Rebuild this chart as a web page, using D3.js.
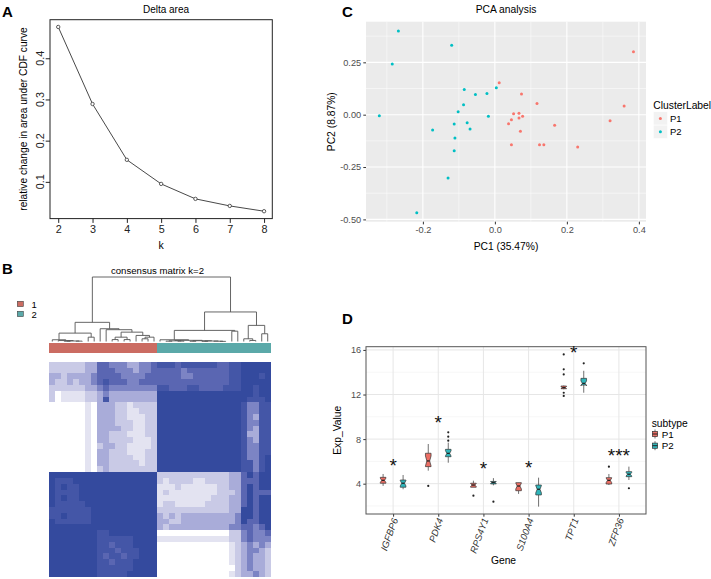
<!DOCTYPE html>
<html><head><meta charset="utf-8">
<script src="https://cdn.jsdelivr.net/npm/d3@7"></script>
<style>body{margin:0;background:#fff}svg{display:block}text{font-family:"Liberation Sans",Arial,Helvetica,sans-serif}</style>
</head><body><svg id="c" width="711" height="579"></svg>
<script>
// ---------------- DATA ----------------
// Panel A: delta area
const kValues = [2,3,4,5,6,7,8];
const deltaArea = [0.476,0.289,0.1535,0.095,0.0587,0.0416,0.0287];
const deltaYTicks = [0.1,0.2,0.3,0.4];

// Panel C: PCA
const pcaP1x = [0.012,0.074,0.117,0.052,0.067,0.046,0.067,0.077,0.038,0.071,0.046,0.124,0.136,0.166,0.230,0.320,0.359,0.385];
const pcaP1y = [0.153,0.099,0.053,0.005,0.007,-0.024,-0.016,-0.008,-0.043,-0.079,-0.143,-0.143,-0.143,-0.051,-0.154,-0.029,0.042,0.301];
const pcaP2x = [-0.268,-0.120,-0.285,-0.085,-0.054,-0.022,0.004,-0.087,-0.102,-0.321,-0.018,-0.113,-0.077,-0.069,-0.173,-0.111,-0.113,-0.130,-0.217];
const pcaP2y = [0.400,0.331,0.242,0.120,0.096,0.101,0.129,0.048,0.014,-0.005,-0.008,-0.044,-0.038,-0.068,-0.073,-0.111,-0.172,-0.302,-0.468];
const pcaXTicks = [-0.2,0,0.2,0.4];
const pcaXLabels = ["-0.2","0.0","0.2","0.4"];
const pcaYTicks = [0.25,0,-0.25,-0.5];
const pcaYLabels = ["0.25","0.00","-0.25","-0.50"];
const pcaXMinor = [-0.3,-0.1,0.1,0.3];
const pcaYMinor = [0.375,0.125,-0.125,-0.375];
const clusterNames = ["P1","P2"];

// Panel B: consensus matrix (levels 0..7), columns = samples, rows top->bottom
const clusterLabels = ["1","2"];
const sampleGroup = [1,1,1,1,1,1,1,1,1,1,1,1,1,1,1,1,1,1, 2,2,2,2,2,2,2,2,2,2,2,2,2,2,2,2,2,2,2];
const consensusRows = [
"222222335544433445"+"66656666665566"+"77777",
"222222335554443445"+"55554555555566"+"77777",
"332333345555444455"+"55554455555566"+"77767",
"322323345655544555"+"55555555555566"+"77777",
"222222334544444444"+"66555665555666"+"77677",
"201111223433333333"+"77777777777777"+"77677",
"201111223633333333"+"77777777777777"+"76667",
"000000103332212222"+"77777777777777"+"64466",
"000000103332211222"+"77777777777777"+"64466",
"000000103332211122"+"77777777777777"+"64366",
"000000103332221122"+"77777777777777"+"64466",
"000000103333221122"+"77777777777777"+"64366",
"000000103322211122"+"77777777777777"+"63366",
"000000103322221112"+"77777777777777"+"64366",
"000000102332211112"+"77777777777777"+"64466",
"000000103322211122"+"77777777777777"+"64466",
"000000103322221122"+"77777777777777"+"64467",
"000000103322222122"+"77777777777777"+"66467",
"000000102322222222"+"77777777777777"+"66467",
"777777777777777777"+"222222222222"+"33"+"57577",
"766677777777777777"+"212222112222"+"33"+"55577",
"767667777777777777"+"111211111122"+"33"+"57577",
"766667777777777777"+"121111111122"+"23"+"57555",
"767667777777777777"+"111111111222"+"33"+"57577",
"766666777777777777"+"122111112222"+"33"+"57577",
"666666677777777777"+"222222222222"+"33"+"77577",
"667666677777777777"+"323233333333"+"34"+"77577",
"766666677777777777"+"332233333333"+"34"+"75577",
"777777777777777777"+"323333333333"+"44"+"55457",
"777777776677777777"+"000000000000"+"22"+"45445",
"777777776666667777"+"111111111111"+"22"+"45444",
"777777776656667777"+"000000000000"+"12"+"34343",
"777777776665666777"+"000000000000"+"12"+"34432",
"777777776566566777"+"000000000000"+"12"+"34332",
"777777776656667777"+"000000000000"+"12"+"34332",
"777777776666667777"+"000000000000"+"02"+"34332",
"777777776666677777"+"000000000000"+"12"+"33432"
];
// dendrogram: [height, left, right]; numbers are sample (column) indices
const dendroLeft = [0.297,
  [0.13, [0.027, 0, [0.015, 1, [0.008, [0.004,2,3], [0.006,4,5]]]], [0.067,6,7]],
  [0.198, 8, [0.183, 9, [0.145, [0.067,[0.03,10,11],[0.03,12,13]], [0.094, 14, [0.067,[0.042,15,16],17]]]]]];
const dendroRight = [0.458,
  [0.172, [0.027, 18, [0.018, [0.01,[0.005,19,20],[0.006,21,22]], [0.012,[0.004,23,24],[0.008,[0.003,25,26],[0.005,27,[0.002,28,29]]]]]], [0.16,30,31]],
  [0.25, [0.042, 32, [0.016,33,34]], [0.12,35,36]]];
const dendrogram = [1.0, dendroLeft, dendroRight];

// Panel D: expression boxplots  [lowerWhisker, q1, median, q3, upperWhisker]
const genes = ["IGFBP6","PDK4","RPS4Y1","S100A4","TPT1","ZFP36"];
const p1Stats = [
  [3.80,4.04,4.30,4.57,4.87],
  [5.17,5.53,6.04,6.73,7.56],
  [3.68,3.68,3.88,4.04,4.27],
  [3.08,3.37,3.79,4.09,4.10],
  [12.47,12.52,12.62,12.76,12.80],
  [3.88,3.97,4.30,4.54,4.87]];
const p2Stats = [
  [3.50,3.68,4.04,4.33,4.78],
  [5.88,6.42,6.72,7.08,7.68],
  [3.85,3.98,4.10,4.20,4.50],
  [1.94,2.99,3.50,3.88,4.54],
  [12.16,12.85,13.00,13.45,14.13],
  [4.33,4.63,4.85,5.08,5.53]];
const p1Outliers = [[],[3.8],[2.92],[],[15.6,14.26,13.8,12.16,11.87],[5.53]];
const p2Outliers = [[],[8.61,8.22,7.86],[2.39],[],[14.8],[3.59]];
const p1N = 18, p2N = 19;
const starY = [5.9,9.75,5.62,5.68,15.95,6.72];
const starLabels = ["*","*","*","*","*","***"];
const expTicks = [4,8,12,16];
const expMinor = [2,6,10,14];
const subtypes = ["P1","P2"];

// ---------------- DRAW ----------------
const svg = d3.select("#c");
svg.append("rect").attr("width",711).attr("height",579).attr("fill","#fff");
const FONT = '"Liberation Sans",Arial,Helvetica,sans-serif';
function txt(g,x,y,s,opt={}){
  const t=g.append("text").attr("x",x).attr("y",y).text(s)
    .attr("font-size",opt.size||10).attr("fill",opt.fill||"#000")
    .attr("text-anchor",opt.anchor||"start");
  if(opt.weight) t.attr("font-weight",opt.weight);
  if(opt.style) t.attr("font-style",opt.style);
  if(opt.rotate!==undefined) t.attr("transform",`rotate(${opt.rotate},${x},${y})`);
  if(opt.dy) t.attr("dy",opt.dy);
  return t;
}
// panel letters
txt(svg,2,16.7,"A",{size:15,weight:"bold"});
txt(svg,2,274,"B",{size:15,weight:"bold"});
txt(svg,342,17,"C",{size:15,weight:"bold"});
txt(svg,342,324,"D",{size:15,weight:"bold"});

// ===== Panel A =====
{
  const g = svg.append("g");
  const x = d3.scaleLinear().domain([1.76,8.24]).range([50,272.3]);
  const y = d3.scaleLinear().domain([0.0108,0.4936]).range([218.6,19.7]);
  g.append("rect").attr("x",50).attr("y",19.7).attr("width",222.3).attr("height",198.9)
    .attr("fill","none").attr("stroke","#222").attr("stroke-width",1);
  const xa = g.append("g").attr("transform","translate(0,218.6)")
    .call(d3.axisBottom(x).tickValues(kValues).tickSize(4.3).tickPadding(2).tickFormat(d3.format("d")));
  xa.select(".domain").remove();
  xa.selectAll("line").attr("stroke","#222");
  xa.selectAll("text").attr("font-size",10.8).attr("font-family",FONT).attr("fill","#222");
  const ya = g.append("g").attr("transform","translate(50,0)")
    .call(d3.axisLeft(y).tickValues(deltaYTicks).tickSize(4.3).tickFormat(""));
  ya.select(".domain").remove();
  ya.selectAll("line").attr("stroke","#222");
  deltaYTicks.forEach(v=>txt(g,40,y(v),d3.format(".1f")(v),{size:10.8,anchor:"middle",rotate:-90,dy:"0.35em",fill:"#222"}));
  const line = d3.line().x((d,i)=>x(kValues[i])).y(d=>y(d));
  g.append("path").attr("d",line(deltaArea)).attr("fill","none").attr("stroke","#333").attr("stroke-width",0.9);
  g.selectAll("circle").data(deltaArea).join("circle")
    .attr("cx",(d,i)=>x(kValues[i])).attr("cy",d=>y(d)).attr("r",1.7)
    .attr("fill","#fff").attr("stroke","#333").attr("stroke-width",0.8);
  txt(g,166,13,"Delta area",{size:10,anchor:"middle"});
  txt(g,161,248.5,"k",{size:10.5,anchor:"middle"});
  txt(g,23,119,"relative change in area under CDF curve",{size:10.2,anchor:"middle",rotate:-90,dy:"0.35em"});
}

// ===== Panel C =====
{
  const g = svg.append("g");
  const x = d3.scaleLinear().domain([-0.358,0.4198]).range([366,646]);
  const y = d3.scaleLinear().domain([-0.511,0.444]).range([221.7,21.7]);
  g.append("rect").attr("x",366).attr("y",21.7).attr("width",280).attr("height",200).attr("fill","#EBEBEB");
  pcaXMinor.forEach(v=>g.append("line").attr("x1",x(v)).attr("x2",x(v)).attr("y1",21.7).attr("y2",221.7).attr("stroke","#fff").attr("stroke-width",0.5));
  pcaYMinor.forEach(v=>g.append("line").attr("y1",y(v)).attr("y2",y(v)).attr("x1",366).attr("x2",646).attr("stroke","#fff").attr("stroke-width",0.5));
  pcaXTicks.forEach(v=>g.append("line").attr("x1",x(v)).attr("x2",x(v)).attr("y1",21.7).attr("y2",221.7).attr("stroke","#fff").attr("stroke-width",1.1));
  pcaYTicks.forEach(v=>g.append("line").attr("y1",y(v)).attr("y2",y(v)).attr("x1",366).attr("x2",646).attr("stroke","#fff").attr("stroke-width",1.1));
  const xa = g.append("g").attr("transform","translate(0,221.7)")
    .call(d3.axisBottom(x).tickValues(pcaXTicks).tickSize(2.7).tickPadding(2.2).tickFormat((d,i)=>pcaXLabels[i]));
  xa.select(".domain").remove();
  xa.selectAll("line").attr("stroke","#333");
  xa.selectAll("text").attr("font-size",9.2).attr("font-family",FONT).attr("fill","#4D4D4D");
  const ya = g.append("g").attr("transform","translate(366,0)")
    .call(d3.axisLeft(y).tickValues(pcaYTicks).tickSize(2.7).tickPadding(2.2).tickFormat((d,i)=>pcaYLabels[i]));
  ya.select(".domain").remove();
  ya.selectAll("line").attr("stroke","#333");
  ya.selectAll("text").attr("font-size",9.2).attr("font-family",FONT).attr("fill","#4D4D4D");
  const cols = ["#F8766D","#00BFC4"];
  pcaP1x.forEach((v,i)=>g.append("circle").attr("cx",x(v)).attr("cy",y(pcaP1y[i])).attr("r",1.5).attr("fill",cols[0]));
  pcaP2x.forEach((v,i)=>g.append("circle").attr("cx",x(v)).attr("cy",y(pcaP2y[i])).attr("r",1.5).attr("fill",cols[1]));
  txt(g,506,13,"PCA analysis",{size:10.3,anchor:"middle"});
  txt(g,506,249.5,"PC1 (35.47%)",{size:10.3,anchor:"middle"});
  txt(g,331,121.7,"PC2 (8.87%)",{size:10.3,anchor:"middle",rotate:-90,dy:"0.35em"});
  // legend
  txt(g,653.3,108.5,"ClusterLabel",{size:10.3});
  clusterNames.forEach((n,i)=>{
    const ky = 111.7 + i*13.4;
    g.append("rect").attr("x",653.3).attr("y",ky).attr("width",14.2).attr("height",13.4).attr("fill","#F2F2F2").attr("stroke","#fff").attr("stroke-width",0.6);
    g.append("circle").attr("cx",660.4).attr("cy",ky+6.7).attr("r",1.5).attr("fill",cols[i]);
    txt(g,670,ky+10,n,{size:9.5});
  });
}

// ===== Panel B =====
{
  const g = svg.append("g");
  const nS = sampleGroup.length;
  const xh = d3.scaleLinear().domain([0,nS]).range([49.3,270.7]);
  const yh = d3.scaleLinear().domain([0,consensusRows.length]).range([361.7,576.7]);
  const levelColor = ["#FFFFFF","#E3E3F1","#C9CAE6","#A9ACD9","#7C84C4","#5A66B2","#4456A7","#344A9E"];
  const hg = g.append("g").attr("shape-rendering","crispEdges");
  consensusRows.forEach((row,r)=>{
    for(let c=0;c<nS;c++){
      const lv = +row.charAt(c) || 0;
      if(lv===0) continue;
      const x0=Math.round(xh(c)), x1=Math.round(xh(c+1)), y0=Math.round(yh(r)), y1=Math.round(yh(r+1));
      hg.append("rect").attr("x",x0).attr("y",y0).attr("width",x1-x0).attr("height",y1-y0)
        .attr("fill",levelColor[lv]);
    }
  });
  // column color bar
  const groupColor = {1:"#CB6C62",2:"#5BA9A9"};
  sampleGroup.forEach((gr,c)=>{
    const x0=Math.round(xh(c)), x1=Math.round(xh(c+1));
    hg.append("rect").attr("x",x0).attr("y",343.3).attr("width",x1-x0).attr("height",9.4).attr("fill",groupColor[gr]);
  });
  // dendrogram
  const yd = d3.scaleLinear().domain([0,1]).range([341.5,277]);
  const dg = g.append("g").attr("stroke","#555").attr("stroke-width",0.9).attr("fill","none");
  function lay(node){
    if(typeof node === "number") return {x: xh(node+0.5), h:0};
    const a = lay(node[1]), b = lay(node[2]), h = node[0];
    dg.append("path").attr("d",`M${a.x},${yd(a.h)}V${yd(h)}H${b.x}V${yd(b.h)}`);
    return {x:(a.x+b.x)/2, h};
  }
  lay(dendrogram);
  txt(g,157.5,274,"consensus matrix k=2",{size:9.6,anchor:"middle"});
  // legend
  clusterLabels.forEach((l,i)=>{
    g.append("rect").attr("x",17.3).attr("y",301.3+i*10).attr("width",6).attr("height",5.3)
      .attr("fill",groupColor[i+1]).attr("stroke","#444").attr("stroke-width",0.6);
    txt(g,31.5,307.5+i*10,l,{size:9.5});
  });
}

// ===== Panel D =====
{
  const g = svg.append("g");
  const x = d3.scaleLinear().domain([0.4,6.6]).range([366,646]);
  const y = d3.scaleLinear().domain([1.28,16.29]).range([514,346.7]);
  g.append("rect").attr("x",366).attr("y",346.7).attr("width",280).attr("height",167.3).attr("fill","#fff");
  expMinor.forEach(v=>g.append("line").attr("y1",y(v)).attr("y2",y(v)).attr("x1",366).attr("x2",646).attr("stroke","#F0F0F0").attr("stroke-width",0.6));
  expTicks.forEach(v=>g.append("line").attr("y1",y(v)).attr("y2",y(v)).attr("x1",366).attr("x2",646).attr("stroke","#E6E6E6").attr("stroke-width",1));
  genes.forEach((gn,i)=>g.append("line").attr("x1",x(i+1)).attr("x2",x(i+1)).attr("y1",346.7).attr("y2",514).attr("stroke","#E6E6E6").attr("stroke-width",1));
  const ya = g.append("g").attr("transform","translate(366,0)")
    .call(d3.axisLeft(y).tickValues(expTicks).tickSize(2.7).tickPadding(2.2));
  ya.select(".domain").remove();
  ya.selectAll("line").attr("stroke","#333");
  ya.selectAll("text").attr("font-size",9.2).attr("font-family",FONT).attr("fill","#4D4D4D");
  const xa = g.append("g").attr("transform","translate(0,514)")
    .call(d3.axisBottom(x).tickValues(genes.map((d,i)=>i+1)).tickSize(2.7).tickFormat(""));
  xa.select(".domain").remove();
  xa.selectAll("line").attr("stroke","#333");
  g.append("rect").attr("x",366).attr("y",346.7).attr("width",280).attr("height",167.3).attr("fill","none").attr("stroke","#555").attr("stroke-width",1);
  const fills = ["#EC6E64","#2FB5BA"];
  function box(cx,s,out,fill,n,w){
    const [lo,q1,md,q3,hi]=s;
    const x0=cx-w/2,x1=cx+w/2;
    const nh = 1.58*(q3-q1)/Math.sqrt(n);
    const nl=md-nh, nu=md+nh;
    g.append("line").attr("x1",cx).attr("x2",cx).attr("y1",y(q3)).attr("y2",y(hi)).attr("stroke","#333").attr("stroke-width",0.7);
    g.append("line").attr("x1",cx).attr("x2",cx).attr("y1",y(q1)).attr("y2",y(lo)).attr("stroke","#333").attr("stroke-width",0.7);
    const pts=[[x0,y(q3)],[x0,y(nu)],[x0+w*0.25,y(md)],[x0,y(nl)],[x0,y(q1)],[x1,y(q1)],[x1,y(nl)],[x1-w*0.25,y(md)],[x1,y(nu)],[x1,y(q3)]];
    g.append("polygon").attr("points",pts.map(p=>p.join(",")).join(" ")).attr("fill",fill).attr("stroke","#333").attr("stroke-width",0.7);
    g.append("line").attr("x1",x0+w*0.25).attr("x2",x1-w*0.25).attr("y1",y(md)).attr("y2",y(md)).attr("stroke","#222").attr("stroke-width",1.3);
    out.forEach(v=>g.append("circle").attr("cx",cx).attr("cy",y(v)).attr("r",1.1).attr("fill","#222"));
  }
  genes.forEach((gn,i)=>{
    box(x(i+1)-10,p1Stats[i],p1Outliers[i],fills[0],p1N,5.6);
    box(x(i+1)+10,p2Stats[i],p2Outliers[i],fills[1],p2N,5.6);
    txt(g,x(i+1),y(starY[i])+9,starLabels[i],{size:19,anchor:"middle",fill:"#111"});
    txt(g,x(i+1)+2,518.5,gn,{size:9.5,anchor:"end",rotate:-70,dy:"0.35em",style:"italic",fill:"#333"});
  });
  txt(g,503.5,564,"Gene",{size:10.3,anchor:"middle"});
  txt(g,337,430.3,"Exp_Value",{size:10.3,anchor:"middle",rotate:-90,dy:"0.35em"});
  // legend
  txt(g,651.7,427,"subtype",{size:10.3});
  subtypes.forEach((s,i)=>{
    const cy = 434+i*11.7, cx=655;
    g.append("line").attr("x1",cx).attr("x2",cx).attr("y1",cy-4.5).attr("y2",cy+4.5).attr("stroke","#333").attr("stroke-width",0.7);
    g.append("rect").attr("x",cx-2.6).attr("y",cy-2.6).attr("width",5.2).attr("height",5.2).attr("fill",fills[i]).attr("stroke","#333").attr("stroke-width",0.7);
    g.append("line").attr("x1",cx-2.6).attr("x2",cx+2.6).attr("y1",cy).attr("y2",cy).attr("stroke","#222").attr("stroke-width",1);
    txt(g,661.7,cy+3.5,s,{size:9.8});
  });
}
</script></body></html>
